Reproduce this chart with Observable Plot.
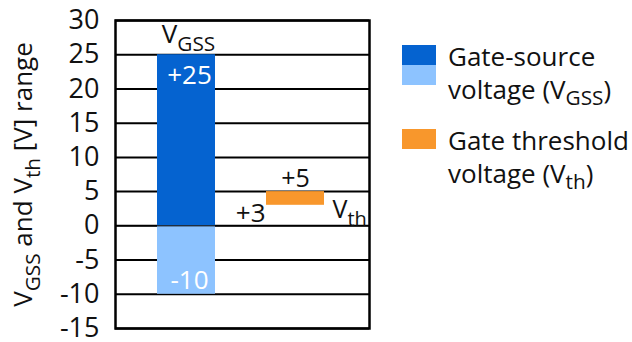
<!DOCTYPE html>
<html>
<head>
<meta charset="utf-8">
<script src="https://cdn.jsdelivr.net/npm/d3@7"></script>
<script src="https://cdn.jsdelivr.net/npm/@observablehq/plot@0.6"></script>
<style>
  body { margin: 0; background: #fff; font-family: "Open Sans", sans-serif; }
  #chart { position: relative; width: 632px; height: 342px; overflow: hidden; }
  #chart svg { position: absolute; left: 0; top: 0; }
  #legend { position: absolute; left: 402px; top: 40px; font-size: 26px; line-height: 33px; color: #111; white-space: nowrap; }
  .item { display: flex; align-items: flex-start; margin-bottom: 18px; }
  .sw { width: 34px; margin-top: 5px; margin-right: 12px; flex: none; }
  .sw div { width: 34px; }
  #legend sub { font-size: 0.8em; vertical-align: -0.3em; line-height: 0; }
</style>
</head>
<body>
<div id="chart"><div id="legend"></div></div>
<script>
// Voltage ranges: VGSS (gate-source rating) and Vth (gate threshold)
const categories = ["VGSS", "Vth"];
const segCategory = ["VGSS", "VGSS", "Vth"];
const segKind = ["vgssPos", "vgssNeg", "vth"];
const segLow = [0, -10, 3];
const segHigh = [25, 0, 5];
const yTicks = [-15, -10, -5, 0, 5, 10, 15, 20, 25, 30];
const yLabel = "V_{GSS} and V_{th} [V] range";
const categoryNames = ["V_{GSS}", "V_{th}"];
const legendLabels = ["Gate-source<br>voltage (V<sub>GSS</sub>)", "Gate threshold<br>voltage (V<sub>th</sub>)"];

const kindColors = { domain: ["vgssPos", "vgssNeg", "vth"], range: ["#0563d0", "#8dc3ff", "#f8972c"] };

const segments = segCategory.map((c, i) => ({ cat: c, kind: segKind[i], low: segLow[i], high: segHigh[i] }));
const fmt = v => (v > 0 ? "+" : "") + v;

// value labels read from the segments they describe
const vgssTop = [{ cat: segments[0].cat, v: segments[0].high }];
const vgssBottom = [{ cat: segments[1].cat, v: segments[1].low }];
const vthTop = [{ cat: segments[2].cat, v: segments[2].high }];
const vthBottom = [{ cat: segments[2].cat, v: segments[2].low }];

const chart = Plot.plot({
  width: 390,
  height: 342,
  marginLeft: 115,
  marginRight: 21,
  marginTop: 20,
  marginBottom: 14,
  style: { fontFamily: "Open Sans, sans-serif", fontSize: "25px", color: "#111", background: "transparent" },
  x: { domain: categories, paddingInner: 0.47, paddingOuter: 0.39, align: 0.48, axis: null },
  y: { domain: [-15, 30] },
  color: kindColors,
  marks: [
    Plot.ruleY(yTicks, { stroke: "#000", strokeWidth: 2 }),
    Plot.barY(segments, { x: "cat", y1: "low", y2: "high", fill: "kind", inset: 0 }),
    Plot.ruleY([0], { stroke: "#000", strokeWidth: 1 }),
    Plot.frame({ stroke: "#000", strokeWidth: 2.5 }),
    Plot.axisY({
      ticks: yTicks, tickFormat: d => String(d), tickSize: 0, tickPadding: 16,
      fontSize: 27, fill: "#111",
      label: yLabel, labelAnchor: "center", labelOffset: 102
    }),
    // category names
    Plot.text([{ cat: categories[0], v: segHigh[0], name: categoryNames[0] }], {
      x: "cat", y: "v", text: "name", dy: -20, dx: 2, fontSize: 26, fill: "#111"
    }),
    Plot.text([{ cat: categories[1], v: segLow[2], name: categoryNames[1] }], {
      x: "cat", y: "v", text: "name", dx: 37, dy: 5, textAnchor: "start", fontSize: 25, fill: "#111"
    }),
    // value labels
    Plot.text(vgssTop, { x: "cat", y: "v", text: d => fmt(d.v), dy: 21, dx: 3, fontSize: 26, fill: "#fff" }),
    Plot.text(vgssBottom, { x: "cat", y: "v", text: d => fmt(d.v), dy: -14, dx: 3, fontSize: 26, fill: "#fff" }),
    Plot.text(vthTop, { x: "cat", y: "v", text: d => fmt(d.v), dy: -13, fontSize: 25, fill: "#111" }),
    Plot.text(vthBottom, { x: "cat", y: "v", text: d => fmt(d.v), dx: -30, dy: 8, textAnchor: "end", fontSize: 26, fill: "#111" })
  ]
});

const root = document.getElementById("chart");
root.insertBefore(chart, root.firstChild);

// turn "_{...}" markers into subscript tspans
const svgNS = "http://www.w3.org/2000/svg";
chart.querySelectorAll("text").forEach(t => {
  const s = t.textContent;
  if (!s.includes("_{")) return;
  const fs = parseFloat(getComputedStyle(t).fontSize);
  const isAxisLabel = s.includes("range");
  const base = isAxisLabel ? 26 : fs;
  if (isAxisLabel) t.setAttribute("font-size", base);
  t.textContent = "";
  const parts = s.replace(/\s*[↑↓→←]\s*/g, "").split(/(_\{[^}]*\})/).filter(Boolean);
  let shifted = false;
  for (const p of parts) {
    const ts = document.createElementNS(svgNS, "tspan");
    if (p.startsWith("_{")) {
      ts.textContent = p.slice(2, -1);
      ts.setAttribute("font-size", base * 0.8);
      ts.setAttribute("dy", base * 0.32);
      shifted = true;
    } else {
      ts.textContent = p;
      if (shifted) { ts.setAttribute("dy", -base * 0.32); shifted = false; }
    }
    t.appendChild(ts);
  }
});

// legend
const legend = d3.select("#legend");
const swatches = [[kindColors.range[0], kindColors.range[1]], [kindColors.range[2]]];
legendLabels.forEach((lab, i) => {
  const item = legend.append("div").attr("class", "item");
  const sw = item.append("div").attr("class", "sw");
  swatches[i].forEach(c => sw.append("div").style("height", "20px").style("background", c));
  item.append("div").html(lab);
});
</script>
</body>
</html>
